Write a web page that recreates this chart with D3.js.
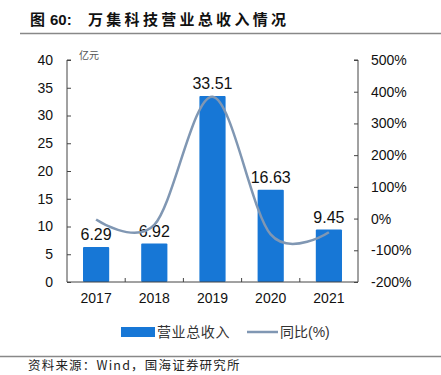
<!DOCTYPE html>
<html>
<head>
<meta charset="utf-8">
<script src="https://cdn.jsdelivr.net/npm/d3@7"></script>
<style>
  body { margin: 0; background: #fff; }
  text { font-family: "Liberation Sans", Arial, "Noto Sans CJK SC", sans-serif; }
  .cjk { font-family: "Noto Sans CJK SC", sans-serif; }
</style>
</head>
<body>
<div id="chart"></div>
<script>
const years = ['2017', '2018', '2019', '2020', '2021'];
const revenue = [6.29, 6.92, 33.51, 16.63, 9.45];
const growth = [-3, -20, 384, -50, -43];
const leftTicks = [0, 5, 10, 15, 20, 25, 30, 35, 40];
const rightTicks = [-200, -100, 0, 100, 200, 300, 400, 500];

const width = 441;
const height = 375;
const margin = {top: 60, bottom: 93, left: 67, right: 83};

const svg = d3.select('#chart')
    .append('svg')
    .attr('width', width)
    .attr('height', height)
    .attr('viewBox', [0, 0, width, height]);

// title
const title = svg.append('text')
    .attr('class', 'cjk')
    .attr('x', 30)
    .attr('y', 25)
    .attr('font-size', '15px')
    .attr('font-weight', 'bold')
    .attr('fill', '#111');
title.append('tspan').text('图');
title.append('tspan').attr('x', 50).attr('font-family', '"Liberation Sans", Arial, sans-serif').text('60:');
title.append('tspan').attr('x', 88).attr('letter-spacing', '3.3px').text('万集科技营业总收入情况');

svg.append('line')
    .attr('x1', 20).attr('x2', width)
    .attr('y1', 33.5).attr('y2', 33.5)
    .attr('stroke', '#888').attr('stroke-width', 1.5);

const x = d3.scaleBand()
    .domain(years)
    .range([margin.left, width - margin.right])
    .paddingInner(0.55)
    .paddingOuter(0.275);

const y = d3.scaleLinear()
    .domain([0, 40])
    .range([height - margin.bottom, margin.top]);

const y2 = d3.scaleLinear()
    .domain([-200, 500])
    .range([height - margin.bottom, margin.top]);

// bars
svg.append('g')
    .attr('fill', '#1777D6')
    .selectAll('rect')
    .data(revenue)
    .join('rect')
    .attr('x', (d, i) => x(years[i]))
    .attr('y', d => y(d))
    .attr('height', d => y(0) - y(d))
    .attr('width', x.bandwidth())
    .attr('rx', 1);

// bar labels
svg.append('g')
    .selectAll('text')
    .data(revenue)
    .join('text')
    .attr('x', (d, i) => x(years[i]) + x.bandwidth() / 2)
    .attr('y', d => y(d) - 7)
    .attr('text-anchor', 'middle')
    .attr('font-size', '16px')
    .attr('fill', '#111')
    .text(d => d.toFixed(2));

// growth line
const line = d3.line()
    .x((d, i) => x(years[i]) + x.bandwidth() / 2)
    .y(d => y2(d))
    .curve(d3.curveCardinal.tension(0));

svg.append('path')
    .datum(growth)
    .attr('fill', 'none')
    .attr('stroke', '#8097B3')
    .attr('stroke-width', 2.5)
    .attr('d', line);

// axes
function yAxis(g) {
    g.attr('transform', `translate(${margin.left},0)`)
        .call(d3.axisRight(y).tickValues(leftTicks).tickSize(4).tickFormat(d => d))
        .call(g => g.select('.domain').attr('d', `M4,${y(40)}H0V${y(0)}`));
    g.selectAll('.tick text')
        .attr('x', -14)
        .attr('text-anchor', 'end');
}

function y2Axis(g) {
    g.attr('transform', `translate(${width - margin.right},0)`)
        .call(d3.axisLeft(y2).tickValues(rightTicks).tickSize(4).tickFormat(d => d + '%'))
        .call(g => g.select('.domain').attr('d', `M-4,${y2(500)}H0V${y2(-200)}`));
    g.selectAll('.tick text')
        .attr('x', 13)
        .attr('text-anchor', 'start');
}

function xAxis(g) {
    g.attr('transform', `translate(0,${height - margin.bottom})`)
        .call(d3.axisBottom(x).tickSize(0).tickPadding(11))
        .call(g => g.select('.domain').remove());
    g.append('line')
        .attr('x1', margin.left).attr('x2', width - margin.right)
        .attr('stroke', '#444');
    g.selectAll('.sep')
        .data(years.slice(1))
        .join('line')
        .attr('class', 'sep')
        .attr('x1', d => x(d) - x.step() * x.paddingInner() / 2)
        .attr('x2', d => x(d) - x.step() * x.paddingInner() / 2)
        .attr('y1', 0).attr('y2', -4)
        .attr('stroke', '#444');
}

svg.append('g').call(yAxis);
svg.append('g').call(y2Axis);
svg.append('g').call(xAxis);

svg.selectAll('.tick text')
    .attr('font-size', '14px')
    .attr('fill', '#111')
    .attr('font-family', '"Liberation Sans", Arial, sans-serif');
svg.selectAll('.domain, .tick line').attr('stroke', '#444');

// unit
svg.append('text')
    .attr('class', 'cjk')
    .attr('x', 79)
    .attr('y', 59)
    .attr('font-size', '10px')
    .attr('fill', '#555')
    .text('亿元');

// legend
const legend = svg.append('g').attr('class', 'cjk');
legend.append('rect')
    .attr('x', 121).attr('y', 327)
    .attr('width', 34).attr('height', 10)
    .attr('fill', '#1777D6');
legend.append('text')
    .attr('x', 157).attr('y', 337)
    .attr('font-size', '14px').attr('fill', '#333')
    .attr('letter-spacing', '0.6px')
    .text('营业总收入');
legend.append('line')
    .attr('x1', 247).attr('x2', 278)
    .attr('y1', 332).attr('y2', 332)
    .attr('stroke', '#8097B3').attr('stroke-width', 2.5);
legend.append('text')
    .attr('x', 280).attr('y', 337)
    .attr('font-size', '14px').attr('fill', '#333')
    .text('同比(%)');

// source
svg.append('line')
    .attr('x1', 0).attr('x2', width)
    .attr('y1', 356.5).attr('y2', 356.5)
    .attr('stroke', '#888').attr('stroke-width', 1.5);
svg.append('text')
    .attr('class', 'cjk')
    .attr('x', 28)
    .attr('y', 370)
    .attr('font-size', '12.5px')
    .attr('letter-spacing', '1.2px')
    .attr('fill', '#222')
    .text('资料来源：Wind，国海证券研究所');
</script>
</body>
</html>
